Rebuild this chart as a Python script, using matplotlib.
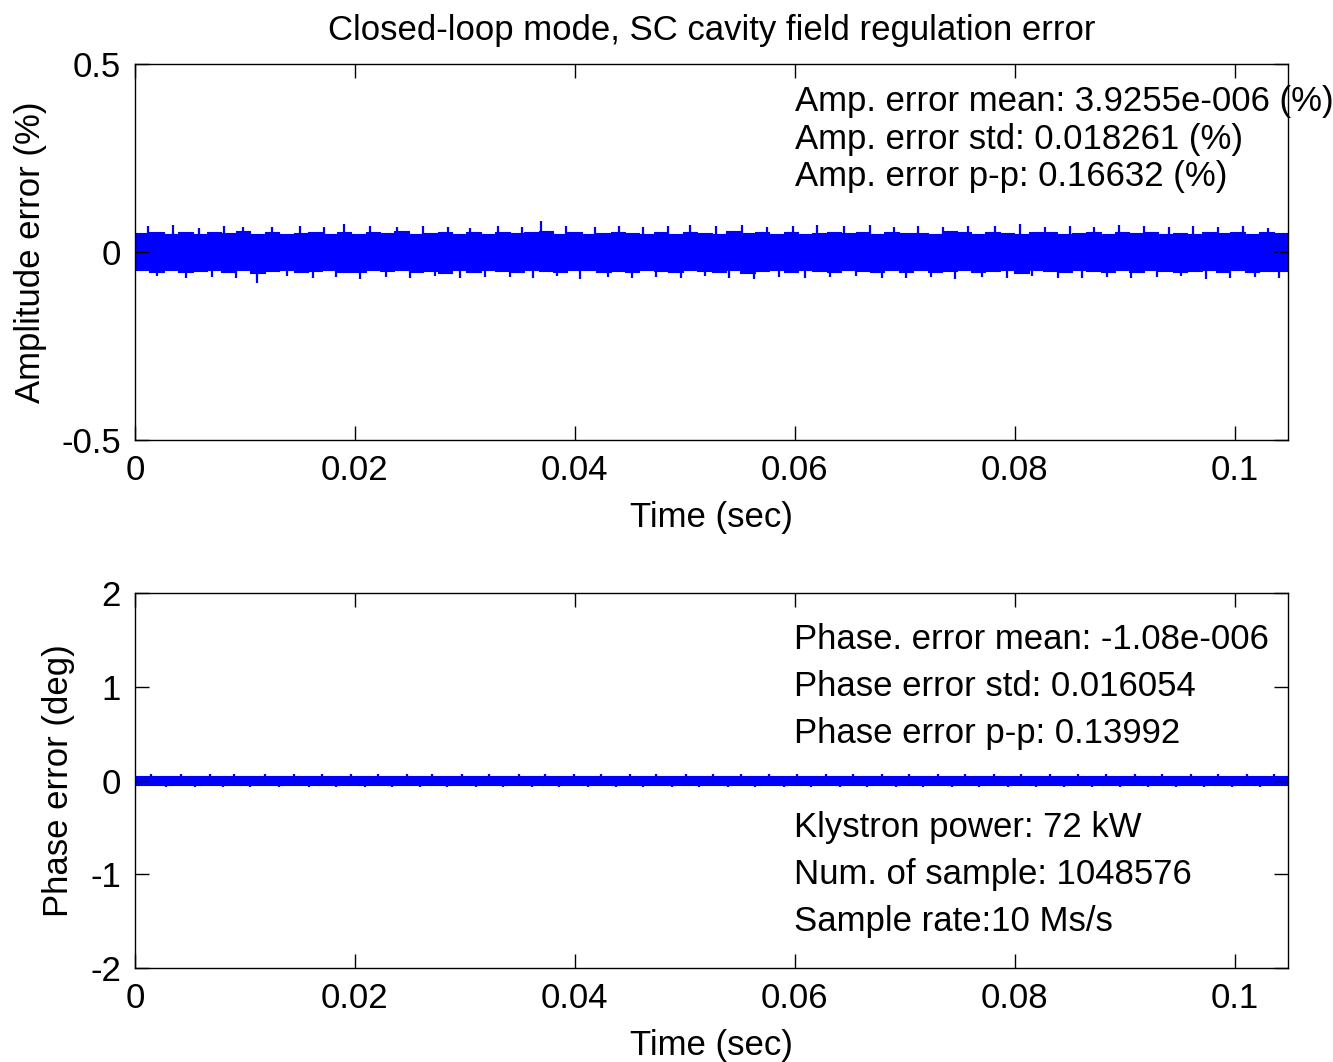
import numpy as np
import matplotlib
matplotlib.use("Agg")
import matplotlib.pyplot as plt

plt.rcParams['font.family'] = ['Liberation Sans', 'DejaVu Sans']

# ---- data (noise band: core envelope + spikes) ----
t_end = 0.1048576  # 1048576 samples at 10 Ms/s

amp_core_hi = [0.050, 0.054, 0.048, 0.052, 0.047, 0.053, 0.050, 0.055, 0.049, 0.052,
               0.047, 0.051, 0.054, 0.049, 0.053, 0.048, 0.052, 0.050, 0.055, 0.048,
               0.051, 0.053, 0.049, 0.052, 0.047, 0.054, 0.050, 0.052, 0.056, 0.049,
               0.053, 0.048, 0.051, 0.054, 0.050, 0.047, 0.052, 0.049, 0.053, 0.051,
               0.048, 0.055, 0.050, 0.052, 0.049, 0.054, 0.047, 0.051, 0.053, 0.050,
               0.052, 0.048, 0.054, 0.050, 0.051, 0.049, 0.055, 0.052, 0.048, 0.053,
               0.050, 0.047, 0.052, 0.054, 0.049, 0.051, 0.053, 0.048, 0.052, 0.050,
               0.054, 0.049, 0.051, 0.047, 0.053, 0.050, 0.052, 0.049, 0.054, 0.051]
amp_core_lo = [-0.049, -0.052, -0.047, -0.053, -0.050, -0.048, -0.054, -0.049, -0.056, -0.051,
               -0.048, -0.053, -0.050, -0.047, -0.052, -0.054, -0.049, -0.051, -0.048, -0.053,
               -0.050, -0.055, -0.047, -0.052, -0.049, -0.051, -0.054, -0.048, -0.050, -0.053,
               -0.049, -0.047, -0.052, -0.050, -0.054, -0.048, -0.051, -0.053, -0.049, -0.050,
               -0.052, -0.048, -0.055, -0.050, -0.047, -0.053, -0.049, -0.051, -0.054, -0.048,
               -0.050, -0.053, -0.049, -0.052, -0.047, -0.054, -0.050, -0.048, -0.052, -0.051,
               -0.049, -0.055, -0.048, -0.051, -0.053, -0.047, -0.050, -0.054, -0.049, -0.052,
               -0.048, -0.051, -0.053, -0.050, -0.047, -0.052, -0.049, -0.054, -0.050, -0.051]
amp_spk_hi_t = [0.0012, 0.0035, 0.0058, 0.0081, 0.0098, 0.0125, 0.0150, 0.0172, 0.0190, 0.0214,
                0.0238, 0.0262, 0.0285, 0.0305, 0.0330, 0.0352, 0.0369, 0.0392, 0.0418, 0.0440,
                0.0462, 0.0485, 0.0505, 0.0528, 0.0552, 0.0575, 0.0598, 0.0620, 0.0645, 0.0668,
                0.0690, 0.0712, 0.0735, 0.0758, 0.0782, 0.0805, 0.0828, 0.0850, 0.0872, 0.0895,
                0.0918, 0.0940, 0.0962, 0.0985, 0.1008, 0.1030]
amp_spk_hi_v = [0.068, 0.072, 0.065, 0.070, 0.066, 0.067, 0.069, 0.066, 0.075, 0.068,
                0.066, 0.070, 0.067, 0.065, 0.069, 0.066, 0.082, 0.068, 0.067, 0.070,
                0.066, 0.068, 0.072, 0.069, 0.071, 0.066, 0.070, 0.073, 0.068, 0.071,
                0.067, 0.069, 0.066, 0.070, 0.068, 0.074, 0.067, 0.069, 0.066, 0.071,
                0.068, 0.067, 0.070, 0.066, 0.068, 0.065]
amp_spk_lo_t = [0.0020, 0.0046, 0.0070, 0.0092, 0.0111, 0.0138, 0.0162, 0.0183, 0.0205, 0.0228,
                0.0250, 0.0273, 0.0296, 0.0318, 0.0341, 0.0362, 0.0384, 0.0405, 0.0430, 0.0452,
                0.0474, 0.0497, 0.0518, 0.0540, 0.0563, 0.0586, 0.0609, 0.0632, 0.0656, 0.0679,
                0.0701, 0.0724, 0.0746, 0.0770, 0.0793, 0.0816, 0.0839, 0.0861, 0.0884, 0.0906,
                0.0929, 0.0951, 0.0974, 0.0996, 0.1019, 0.1040]
amp_spk_lo_v = [-0.064, -0.068, -0.066, -0.070, -0.083, -0.065, -0.069, -0.067, -0.072, -0.066,
                -0.068, -0.065, -0.070, -0.067, -0.066, -0.069, -0.065, -0.071, -0.067, -0.068,
                -0.066, -0.070, -0.065, -0.068, -0.071, -0.066, -0.069, -0.067, -0.065, -0.070,
                -0.068, -0.066, -0.072, -0.067, -0.069, -0.065, -0.068, -0.070, -0.066, -0.069,
                -0.067, -0.065, -0.071, -0.068, -0.066, -0.069]

ph_core_hi = [0.045, 0.048, 0.043, 0.047, 0.044, 0.049, 0.045, 0.046, 0.043, 0.048,
              0.046, 0.044, 0.049, 0.045, 0.047, 0.043, 0.048, 0.046, 0.044, 0.047,
              0.045, 0.049, 0.044, 0.046, 0.048, 0.043, 0.047, 0.045, 0.049, 0.044,
              0.046, 0.048, 0.043, 0.047, 0.045, 0.044, 0.049, 0.046, 0.043, 0.048,
              0.045, 0.047, 0.044, 0.049, 0.046, 0.043, 0.048, 0.045, 0.047, 0.044,
              0.049, 0.046, 0.043, 0.048, 0.045, 0.047, 0.044, 0.046, 0.049, 0.043,
              0.047, 0.045, 0.048, 0.044, 0.046, 0.049, 0.043, 0.047, 0.045, 0.048,
              0.044, 0.046, 0.049, 0.045, 0.043, 0.047, 0.046, 0.048, 0.044, 0.045]
ph_core_lo = [-0.046, -0.044, -0.048, -0.045, -0.047, -0.043, -0.049, -0.045, -0.046, -0.044,
              -0.048, -0.045, -0.047, -0.043, -0.049, -0.046, -0.044, -0.048, -0.045, -0.047,
              -0.044, -0.046, -0.049, -0.043, -0.047, -0.045, -0.048, -0.044, -0.046, -0.047,
              -0.043, -0.049, -0.045, -0.046, -0.048, -0.044, -0.047, -0.045, -0.043, -0.049,
              -0.046, -0.044, -0.048, -0.045, -0.047, -0.043, -0.046, -0.049, -0.044, -0.045,
              -0.047, -0.043, -0.048, -0.046, -0.044, -0.049, -0.045, -0.047, -0.043, -0.046,
              -0.048, -0.044, -0.045, -0.047, -0.049, -0.043, -0.046, -0.045, -0.048, -0.044,
              -0.047, -0.045, -0.043, -0.049, -0.046, -0.044, -0.048, -0.045, -0.047, -0.046]
ph_spk_hi_t = [0.0015, 0.0042, 0.0068, 0.0090, 0.0118, 0.0145, 0.0170, 0.0196, 0.0221, 0.0247,
               0.0270, 0.0297, 0.0322, 0.0349, 0.0373, 0.0399, 0.0424, 0.0450, 0.0474, 0.0501,
               0.0526, 0.0551, 0.0577, 0.0602, 0.0628, 0.0653, 0.0679, 0.0704, 0.0730, 0.0755,
               0.0781, 0.0806, 0.0832, 0.0858, 0.0883, 0.0909, 0.0934, 0.0960, 0.0985, 0.1011,
               0.1036]
ph_spk_hi_v = [0.072, 0.068, 0.070, 0.066, 0.069, 0.074, 0.067, 0.071, 0.068, 0.066,
               0.070, 0.073, 0.067, 0.069, 0.066, 0.071, 0.068, 0.070, 0.067, 0.072,
               0.069, 0.066, 0.070, 0.068, 0.073, 0.067, 0.069, 0.071, 0.066, 0.068,
               0.070, 0.067, 0.072, 0.069, 0.066, 0.070, 0.068, 0.071, 0.067, 0.069,
               0.066]
ph_spk_lo_t = [0.0028, 0.0055, 0.0080, 0.0105, 0.0131, 0.0158, 0.0183, 0.0209, 0.0234, 0.0259,
               0.0284, 0.0310, 0.0335, 0.0361, 0.0386, 0.0412, 0.0437, 0.0462, 0.0488, 0.0513,
               0.0539, 0.0564, 0.0590, 0.0615, 0.0641, 0.0666, 0.0692, 0.0717, 0.0743, 0.0768,
               0.0794, 0.0819, 0.0845, 0.0870, 0.0896, 0.0921, 0.0947, 0.0972, 0.0998, 0.1023]
ph_spk_lo_v = [-0.068, -0.071, -0.066, -0.070, -0.067, -0.073, -0.069, -0.066, -0.070, -0.068,
               -0.072, -0.067, -0.069, -0.066, -0.071, -0.068, -0.070, -0.067, -0.069, -0.073,
               -0.066, -0.070, -0.068, -0.067, -0.071, -0.069, -0.066, -0.072, -0.068, -0.070,
               -0.067, -0.069, -0.071, -0.066, -0.070, -0.068, -0.072, -0.067, -0.069, -0.070]

x_ticks = [0, 0.02, 0.04, 0.06, 0.08, 0.1]
x_ticklabels = ['0', '0.02', '0.04', '0.06', '0.08', '0.1']
amp_yticks = [-0.5, 0, 0.5]
amp_yticklabels = ['-0.5', '0', '0.5']
ph_yticks = [-2, -1, 0, 1, 2]
ph_yticklabels = ['-2', '-1', '0', '1', '2']

amp_text = ["Amp. error mean: 3.9255e-006 (%)",
            "Amp. error std: 0.018261 (%)",
            "Amp. error p-p: 0.16632 (%)"]
ph_text = ["Phase. error mean: -1.08e-006",
           "Phase error std: 0.016054",
           "Phase error p-p: 0.13992"]
info_text = ["Klystron power: 72 kW",
             "Num. of sample: 1048576",
             "Sample rate:10 Ms/s"]

# ---- figure ----
W, H = 1333, 1062
fig = plt.figure(figsize=(W / 100, H / 100), dpi=100)

def px_axes(l, t, r, b):
    return fig.add_axes([l / W, 1 - b / H, (r - l) / W, (b - t) / H])

ax1 = px_axes(135, 64, 1288, 440)
ax2 = px_axes(135, 593, 1288, 968)

BLUE = '#0000ff'

def band(ax, hi, lo, sh_t, sh_v, sl_t, sl_v):
    n = len(hi)
    edges = np.linspace(0, t_end, n + 1)
    mids = 0.5 * (edges[:-1] + edges[1:])
    tt = np.concatenate([[0], mids, [t_end]])
    h = np.concatenate([[hi[0]], hi, [hi[-1]]])
    l = np.concatenate([[lo[0]], lo, [lo[-1]]])
    ax.fill_between(tt, l, h, step='mid', color=BLUE, linewidth=0.8, edgecolor=BLUE)
    ax.vlines(sh_t, 0, sh_v, color=BLUE, linewidth=1.6)
    ax.vlines(sl_t, sl_v, 0, color=BLUE, linewidth=1.6)

band(ax1, amp_core_hi, amp_core_lo, amp_spk_hi_t, amp_spk_hi_v, amp_spk_lo_t, amp_spk_lo_v)
band(ax2, ph_core_hi, ph_core_lo, ph_spk_hi_t, ph_spk_hi_v, ph_spk_lo_t, ph_spk_lo_v)

tick_fs = 25
lab_fs = 25
for ax in (ax1, ax2):
    ax.set_xlim(0, t_end)
    ax.set_xticks(x_ticks)
    ax.set_xticklabels(x_ticklabels)
    ax.tick_params(direction='in', length=10, width=1.0, top=True, right=True,
                   labelsize=tick_fs)
    ax.tick_params(axis='x', pad=10)
    ax.tick_params(axis='y', pad=10)
    for s in ax.spines.values():
        s.set_linewidth(1.0)
    ax.set_xlabel('Time (sec)', fontsize=lab_fs, labelpad=10)

ax1.set_ylim(-0.5, 0.5)
ax1.set_yticks(amp_yticks)
ax1.set_yticklabels(amp_yticklabels)
ax1.set_ylabel('Amplitude error (%)', fontsize=lab_fs)
ax1.yaxis.set_label_coords((47 - 135) / 1153, 0.5)
ax1.set_title('Closed-loop mode, SC cavity field regulation error', fontsize=25, pad=17)

ax2.set_ylim(-2, 2)
ax2.set_yticks(ph_yticks)
ax2.set_yticklabels(ph_yticklabels)
ax2.set_ylabel('Phase error (deg)', fontsize=lab_fs)
ax2.yaxis.set_label_coords((75 - 135) / 1153, 0.5)

ann_fs = 25
for i, s in enumerate(amp_text):
    ax1.text(0.0600, 0.40 - 0.10 * i, s, fontsize=ann_fs, va='center', ha='left',
             clip_on=False)
for i, s in enumerate(ph_text):
    ax2.text(0.0599, 1.5 - 0.5 * i, s, fontsize=ann_fs, va='center', ha='left')
for i, s in enumerate(info_text):
    ax2.text(0.0599, -0.5 - 0.5 * i, s, fontsize=ann_fs, va='center', ha='left')

fig.savefig('out.png', dpi=100)
